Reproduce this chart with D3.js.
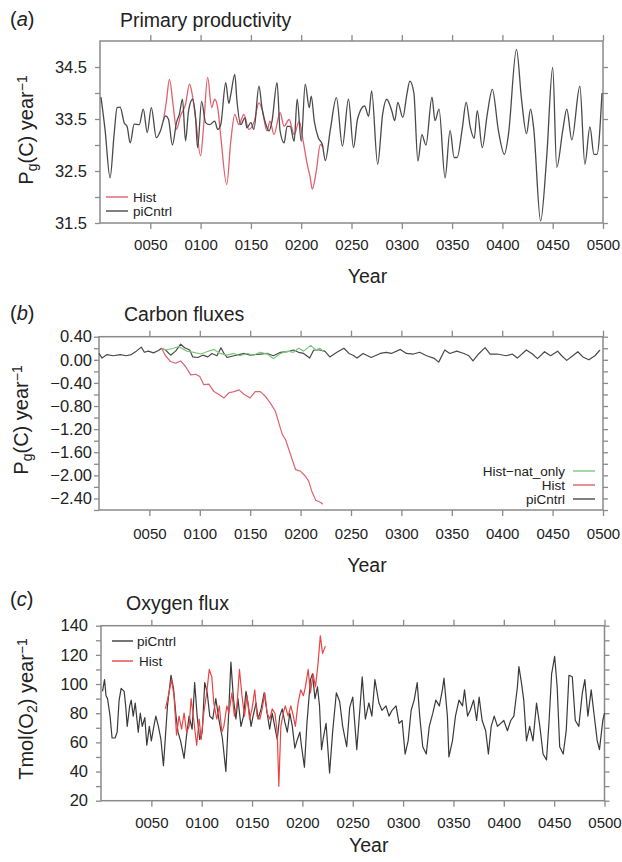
<!DOCTYPE html>
<html>
<head>
<meta charset="utf-8">
<script src="https://cdn.jsdelivr.net/npm/d3@7"></script>
<style>
  body { margin: 0; background: #fff; }
  text { font-family: "Liberation Sans", Arial, Helvetica, sans-serif; fill: #222; }
</style>
</head>
<body>
<script>
// --- data ---
const yearTicks = [50, 100, 150, 200, 250, 300, 350, 400, 450, 500];

// (a) primary productivity, Pg(C) / year
const ppCtrlYears = [1, 5, 10, 14, 17, 20, 24, 27, 30, 34, 39, 43, 47, 51, 56, 60, 65, 68, 72, 76, 79, 82, 85, 88, 92, 95, 97, 101, 105, 109, 114, 117, 120, 125, 128, 130, 134, 136, 140, 144, 146, 150, 153, 158, 161, 165, 168, 171, 176, 179, 183, 186, 189, 193, 196, 200, 204, 208, 210, 213, 217, 221, 224, 229, 235, 241, 247, 252, 256, 263, 267, 270, 276, 281, 285, 290, 293, 296, 301, 305, 308, 312, 316, 320, 324, 330, 333, 337, 343, 348, 352, 355, 360, 364, 368, 372, 375, 380, 385, 390, 396, 402, 406, 414, 419, 424, 428, 431, 438, 444, 450, 454, 460, 464, 469, 477, 482, 487, 491, 494, 499];
const ppCtrl = [33.92, 33.3, 32.37, 33.2, 33.72, 33.73, 33.43, 33.35, 33.04, 33.4, 33.39, 33.69, 33.24, 33.72, 33.14, 33.27, 33.56, 33.5, 33.0, 33.43, 33.6, 33.88, 33.08, 33.65, 33.88, 33.52, 32.95, 33.84, 33.43, 33.39, 33.46, 33.3, 33.39, 34.2, 33.8, 33.97, 34.36, 33.88, 33.39, 33.52, 33.33, 33.43, 33.3, 34.13, 33.72, 33.39, 33.27, 33.46, 34.2, 33.27, 33.04, 33.36, 33.36, 33.07, 33.88, 33.07, 34.17, 33.72, 33.94, 33.46, 33.14, 33.01, 32.7, 33.3, 33.91, 32.98, 33.88, 32.95, 33.5, 33.75, 33.55, 34.04, 32.63, 33.6, 33.88, 33.66, 33.47, 33.82, 33.53, 33.97, 34.23, 34.0, 32.69, 33.2, 33.0, 33.92, 33.47, 33.69, 32.37, 33.28, 32.76, 32.76, 33.3, 33.82, 33.35, 33.13, 33.66, 32.95, 33.6, 34.07, 33.28, 32.82, 33.2, 34.84, 33.88, 33.22, 33.69, 33.34, 31.54, 32.76, 34.49, 32.57, 33.28, 33.69, 33.1, 34.13, 32.63, 33.35, 32.82, 32.82, 34.0];
const ppHistYears = [63, 66, 69, 73, 76, 80, 85, 89, 91, 95, 100, 103, 107, 111, 114, 117, 120, 126, 130, 134, 138, 143, 148, 153, 158, 161, 166, 169, 173, 179, 183, 188, 193, 198, 202, 206, 209, 211, 215, 219, 222];
const ppHist = [33.46, 33.84, 34.26, 33.72, 33.3, 33.56, 33.78, 34.17, 34.04, 33.52, 32.79, 33.36, 34.3, 33.72, 33.88, 33.72, 33.17, 32.24, 33.07, 33.59, 33.39, 33.59, 33.3, 33.43, 33.81, 33.69, 33.27, 33.46, 33.2, 33.62, 33.36, 33.49, 33.2, 33.46, 33.07, 32.63, 32.37, 32.15, 32.5, 33.01, 32.95];

// (b) carbon fluxes, Pg(C) / year
const cfCtrlYears = [0, 3, 8, 14, 21, 27, 32, 37, 42, 45, 49, 54, 59, 62, 66, 71, 76, 81, 85, 90, 93, 98, 103, 108, 112, 117, 121, 124, 127, 134, 144, 150, 160, 167, 173, 180, 187, 193, 198, 203, 209, 213, 219, 224, 229, 236, 243, 248, 252, 256, 262, 270, 279, 285, 290, 299, 305, 312, 318, 325, 332, 337, 343, 348, 355, 362, 367, 371, 377, 383, 388, 395, 404, 410, 415, 424, 430, 435, 442, 448, 455, 459, 464, 470, 475, 480, 486, 492, 497];
const cfCtrl = [0.11, 0.03, 0.09, 0.07, 0.09, 0.07, 0.09, 0.15, 0.22, 0.13, 0.15, 0.12, 0.16, 0.2, 0.17, 0.08, 0.15, 0.27, 0.21, 0.17, 0.05, 0.04, 0.08, 0.05, 0.11, 0.07, 0.21, 0.11, 0.04, 0.07, 0.11, 0.08, 0.1, 0.11, 0.07, 0.13, 0.14, 0.17, 0.13, 0.11, 0.03, 0.17, 0.17, 0.15, 0.05, 0.13, 0.2, 0.11, 0.08, 0.03, 0.11, 0.04, 0.11, 0.13, 0.11, 0.18, 0.11, 0.1, 0.13, 0.07, 0.03, -0.04, 0.17, 0.11, 0.15, 0.11, 0.07, -0.02, 0.11, 0.21, 0.1, 0.1, 0.07, 0.1, 0.03, 0.17, 0.1, 0.02, 0.14, 0.07, 0.15, 0.07, -0.01, 0.07, 0.14, 0.05, 0.0, 0.07, 0.17];
const cfHistYears = [62, 66, 71, 76, 81, 86, 91, 96, 100, 104, 109, 114, 119, 124, 129, 134, 139, 144, 150, 155, 160, 165, 170, 175, 178, 182, 185, 190, 195, 200, 205, 208, 211, 215, 220, 222];
const cfHist = [0.2, 0.07, -0.03, -0.06, -0.02, -0.12, -0.26, -0.25, -0.29, -0.43, -0.42, -0.55, -0.6, -0.66, -0.57, -0.55, -0.52, -0.6, -0.66, -0.55, -0.55, -0.63, -0.75, -0.89, -1.07, -1.3, -1.38, -1.64, -1.9, -1.93, -2.02, -2.1, -2.27, -2.43, -2.47, -2.5];
const cfNatYears = [62, 66, 74, 79, 82, 87, 94, 101, 107, 114, 120, 127, 134, 140, 147, 153, 160, 167, 173, 180, 187, 193, 198, 203, 210, 215, 219, 223];
const cfNat = [0.2, 0.17, 0.2, 0.23, 0.2, 0.15, 0.13, 0.1, 0.14, 0.18, 0.11, 0.08, 0.11, 0.07, 0.11, 0.08, 0.13, 0.1, 0.02, 0.11, 0.15, 0.13, 0.2, 0.15, 0.25, 0.17, 0.2, 0.14];

// (c) oxygen flux, Tmol(O2) / year
const oxCtrlYears = [1.5, 3.5, 5, 6.5, 9, 11, 14, 16, 18, 20, 23, 24.5, 26, 28.5, 30, 32, 34, 37, 39, 41, 43.5, 45.5, 48, 50, 53, 54.5, 57, 59.5, 62, 63.5, 66, 69.5, 72, 74.5, 76.5, 79, 82.5, 85, 87.5, 90.5, 93, 95.5, 98, 100.5, 103, 105.5, 108, 111, 114, 117, 120.5, 124, 126.5, 129, 131.5, 134, 136, 139, 141.5, 144, 146, 149, 151, 154, 156, 159, 162, 165, 167.5, 170, 172.5, 175, 177.5, 180, 182.5, 185, 187.5, 190, 192.5, 195, 197.5, 199, 202, 204.5, 208, 210, 212.5, 215, 217, 219, 221, 223.5, 227, 230, 233.7, 237, 240, 244, 247, 250, 254, 257, 259.4, 262.5, 266, 269, 272, 276, 279, 283, 286, 289, 293, 296, 299, 302, 305, 308, 311, 314, 316.5, 319.5, 323, 326, 329.5, 332.5, 336, 339, 340.6, 344, 345.5, 349, 352, 355.5, 359, 361, 364, 366.7, 370, 373, 375.5, 378.5, 382, 384.7, 387.5, 390.5, 393.7, 397, 400, 403.6, 406.9, 410, 413.5, 415, 417.5, 419.8, 422.5, 425.7, 429, 432.5, 435.8, 439, 442.4, 445, 447.5, 450.5, 453, 455.5, 459, 462, 464.7, 468, 471, 474.5, 478, 480.5, 483.5, 486.8, 489.5, 492.8, 495, 498.3, 500];
const oxCtrl = [95, 103, 92, 90, 78, 63, 63, 67, 89, 97, 95, 85, 71, 85, 89, 78, 87, 67, 80, 71, 77, 58, 71, 61, 73, 78, 71, 62, 44, 59, 85, 106, 97, 78, 67, 61, 49, 65, 78, 69, 101, 78, 62, 67, 101, 94, 78, 76, 90, 76, 63, 40, 76, 115, 90, 76, 90, 71, 78, 95, 87, 71, 78, 87, 76, 83, 94, 80, 69, 80, 71, 62, 78, 83, 74, 67, 80, 71, 56, 62, 67, 58, 43, 73, 103, 107, 90, 98, 85, 55, 64, 73, 39, 67, 94, 88, 71, 57, 84, 91, 55, 82, 105, 76, 87, 78, 103, 87, 82, 85, 78, 82, 85, 73, 75, 52, 61, 82, 89, 101, 78, 57, 52, 71, 80, 89, 85, 96, 104, 78, 50, 61, 78, 89, 85, 96, 78, 82, 89, 75, 91, 75, 68, 52, 71, 78, 71, 73, 75, 68, 75, 78, 98, 112, 101, 89, 61, 71, 61, 87, 71, 52, 48, 75, 107, 119, 98, 57, 52, 68, 106, 105, 75, 71, 94, 103, 78, 96, 80, 61, 55, 75, 80];
const oxHistYears = [64, 67.5, 70, 72.5, 75, 77.5, 80, 82.5, 85, 87.5, 89.5, 92, 95, 97.5, 99.5, 102, 105, 107.5, 110, 112, 115, 117.5, 120, 122, 125, 127, 130, 132.5, 135, 137.5, 140, 142.5, 145, 147.5, 150, 152.7, 155, 157.8, 160, 162.7, 165, 167.7, 170, 172.7, 175, 176.6, 178.6, 181, 183, 185.8, 188.5, 191, 193, 195.7, 198.4, 201, 203, 205.7, 208, 210.6, 213, 215.5, 217.8, 220, 222.8];
const oxHist = [83, 94, 103, 92, 65, 78, 69, 80, 67, 71, 90, 76, 58, 76, 62, 80, 94, 110, 105, 87, 76, 85, 67, 71, 85, 80, 94, 78, 85, 110, 92, 78, 92, 76, 83, 96, 78, 76, 83, 94, 80, 76, 83, 80, 67, 30, 71, 80, 85, 78, 85, 78, 71, 87, 96, 92, 98, 110, 94, 107, 98, 114, 133, 121, 126];

// --- drawing ---
const svg = d3.select("body").append("svg")
  .attr("width", 622)
  .attr("height", 862);

const frameColor = "#8a8a8a";

function zip(xs, ys) {
  return xs.map((d, i) => [d, ys[i]]);
}

function panel(o) {
  const x = d3.scaleLinear().domain([0, 500]).range([o.left, o.right]);
  const y = d3.scaleLinear().domain(o.yDomain).range([o.bottom, o.top]);
  const g = svg.append("g");

  // tick marks on all four sides
  const styleAxis = sel => {
    sel.select(".domain").remove();
    sel.selectAll(".tick line").attr("stroke", frameColor).attr("stroke-width", 1.3);
    sel.selectAll(".tick text").attr("fill", "#222");
  };
  g.append("g").attr("transform", `translate(0,${o.bottom})`)
    .call(d3.axisBottom(x).tickValues(yearTicks).tickFormat(d3.format("04d")).tickSize(6).tickPadding(o.xPad))
    .call(styleAxis)
    .call(a => a.selectAll(".tick text").style("font-size", "15px"));
  g.append("g").attr("transform", `translate(0,${o.top})`)
    .call(d3.axisTop(x).tickValues(yearTicks).tickFormat("").tickSize(6))
    .call(styleAxis);
  g.append("g").attr("transform", `translate(${o.left},0)`)
    .call(d3.axisLeft(y).tickValues(o.yMinor).tickFormat("").tickSize(5))
    .call(styleAxis);
  g.append("g").attr("transform", `translate(${o.left},0)`)
    .call(d3.axisLeft(y).tickValues(o.yLabels).tickFormat(o.yFormat).tickSize(5).tickPadding(o.yPad))
    .call(styleAxis)
    .call(a => a.selectAll(".tick text").style("font-size", "16.5px"));
  g.append("g").attr("transform", `translate(${o.right},0)`)
    .call(d3.axisRight(y).tickValues(o.yMinor.concat(o.yLabels)).tickFormat("").tickSize(5))
    .call(styleAxis);

  // frame
  g.append("rect")
    .attr("x", o.left).attr("y", o.top)
    .attr("width", o.right - o.left).attr("height", o.bottom - o.top)
    .attr("fill", "none").attr("stroke", frameColor).attr("stroke-width", 1.5);

  // series
  const line = d3.line().x(d => x(d[0])).y(d => y(d[1])).curve(o.curve);
  o.series.forEach(s => {
    g.append("path")
      .datum(zip(s.years, s.values))
      .attr("d", line)
      .attr("fill", "none")
      .attr("stroke", s.color)
      .attr("stroke-width", s.width || 1.3)
      .attr("stroke-linejoin", "round");
  });

  // titles
  g.append("text").attr("x", 10).attr("y", o.tagY).style("font-size", "20px")
    .call(t => {
      t.append("tspan").text("(");
      t.append("tspan").style("font-style", "italic").text(o.tag);
      t.append("tspan").text(")");
    });
  g.append("text").attr("x", o.titleX).attr("y", o.titleY).style("font-size", "19.5px").text(o.title);
  g.append("text").attr("x", (o.left + o.right) / 2 + 16).attr("y", o.yearY)
    .attr("text-anchor", "middle").style("font-size", "19.5px").text("Year");

  // y axis label with sub/superscripts
  const yl = g.append("text")
    .attr("transform", `translate(${o.ylabX},${o.ylabY}) rotate(-90)`)
    .attr("text-anchor", "middle").style("font-size", "20px");
  o.ylabParts.forEach(p => {
    const ts = yl.append("tspan").text(p.t);
    if (p.sub) ts.style("font-size", "14px").attr("baseline-shift", "-25%");
    if (p.sup) ts.style("font-size", "14px").attr("baseline-shift", "45%");
  });

  // legend
  o.legend.forEach(l => {
    g.append("line")
      .attr("x1", l.x1).attr("x2", l.x2).attr("y1", l.y - 5).attr("y2", l.y - 5)
      .attr("stroke", l.color).attr("stroke-width", 1.4);
    g.append("text").attr("x", l.tx).attr("y", l.y).attr("text-anchor", l.anchor)
      .style("font-size", "13.5px").text(l.text);
  });
}

const ctrlColor = "#4a4a4a";

panel({
  left: 100, right: 603, top: 41, bottom: 223,
  yDomain: [31.5, 35.0],
  yLabels: [31.5, 32.5, 33.5, 34.5],
  yMinor: [32.0, 33.0, 34.0],
  yFormat: d3.format(".1f"),
  xPad: 10, yPad: 8,
  curve: d3.curveMonotoneX,
  series: [
    { years: ppHistYears, values: ppHist, color: "#e3606f" },
    { years: ppCtrlYears, values: ppCtrl, color: ctrlColor }
  ],
  tag: "a", tagY: 26,
  title: "Primary productivity", titleX: 120, titleY: 27,
  yearY: 283,
  ylabX: 33, ylabY: 130,
  ylabParts: [{ t: "P" }, { t: "g", sub: true }, { t: "(C) year" }, { t: "−1", sup: true }],
  legend: [
    { text: "Hist", color: "#e3606f", x1: 106, x2: 128, tx: 133, y: 202, anchor: "start" },
    { text: "piCntrl", color: ctrlColor, x1: 106, x2: 128, tx: 133, y: 216, anchor: "start" }
  ]
});

panel({
  left: 99, right: 603, top: 336.7, bottom: 510,
  yDomain: [-2.6, 0.4],
  yLabels: [-2.4, -2.0, -1.6, -1.2, -0.8, -0.4, 0.0, 0.4],
  yMinor: [-2.6, -2.2, -1.8, -1.4, -1.0, -0.6, -0.2, 0.2],
  yFormat: d3.format(".2f"),
  xPad: 12, yPad: 2,
  curve: d3.curveLinear,
  series: [
    { years: cfCtrlYears, values: cfCtrl, color: ctrlColor, width: 1.2 },
    { years: cfNatYears, values: cfNat, color: "#7cc67c", width: 1.2 },
    { years: cfHistYears, values: cfHist, color: "#dc6470", width: 1.2 }
  ],
  tag: "b", tagY: 320,
  title: "Carbon fluxes", titleX: 124, titleY: 321,
  yearY: 572,
  ylabX: 28, ylabY: 420,
  ylabParts: [{ t: "P" }, { t: "g", sub: true }, { t: "(C) year" }, { t: "−1", sup: true }],
  legend: [
    { text: "Hist−nat_only", color: "#7cc67c", x1: 573, x2: 595, tx: 565, y: 476, anchor: "end" },
    { text: "Hist", color: "#dc6470", x1: 573, x2: 595, tx: 565, y: 490, anchor: "end" },
    { text: "piCntrl", color: ctrlColor, x1: 573, x2: 595, tx: 565, y: 504, anchor: "end" }
  ]
});

panel({
  left: 101, right: 604.5, top: 625.7, bottom: 800.7,
  yDomain: [20, 140],
  yLabels: [20, 40, 60, 80, 100, 120, 140],
  yMinor: [30, 50, 70, 90, 110, 130],
  yFormat: d3.format("d"),
  xPad: 11, yPad: 8,
  curve: d3.curveLinear,
  series: [
    { years: oxCtrlYears, values: oxCtrl, color: "#3a3a3a", width: 1.2 },
    { years: oxHistYears, values: oxHist, color: "#e84545", width: 1.2 }
  ],
  tag: "c", tagY: 606,
  title: "Oxygen flux", titleX: 126, titleY: 610,
  yearY: 852,
  ylabX: 33, ylabY: 709,
  ylabParts: [{ t: "Tmol(O" }, { t: "2", sub: true }, { t: ") year" }, { t: "−1", sup: true }],
  legend: [
    { text: "piCntrl", color: "#3a3a3a", x1: 112, x2: 133, tx: 137, y: 646, anchor: "start" },
    { text: "Hist", color: "#e84545", x1: 112, x2: 133, tx: 139, y: 666, anchor: "start" }
  ]
});
</script>
</body>
</html>
